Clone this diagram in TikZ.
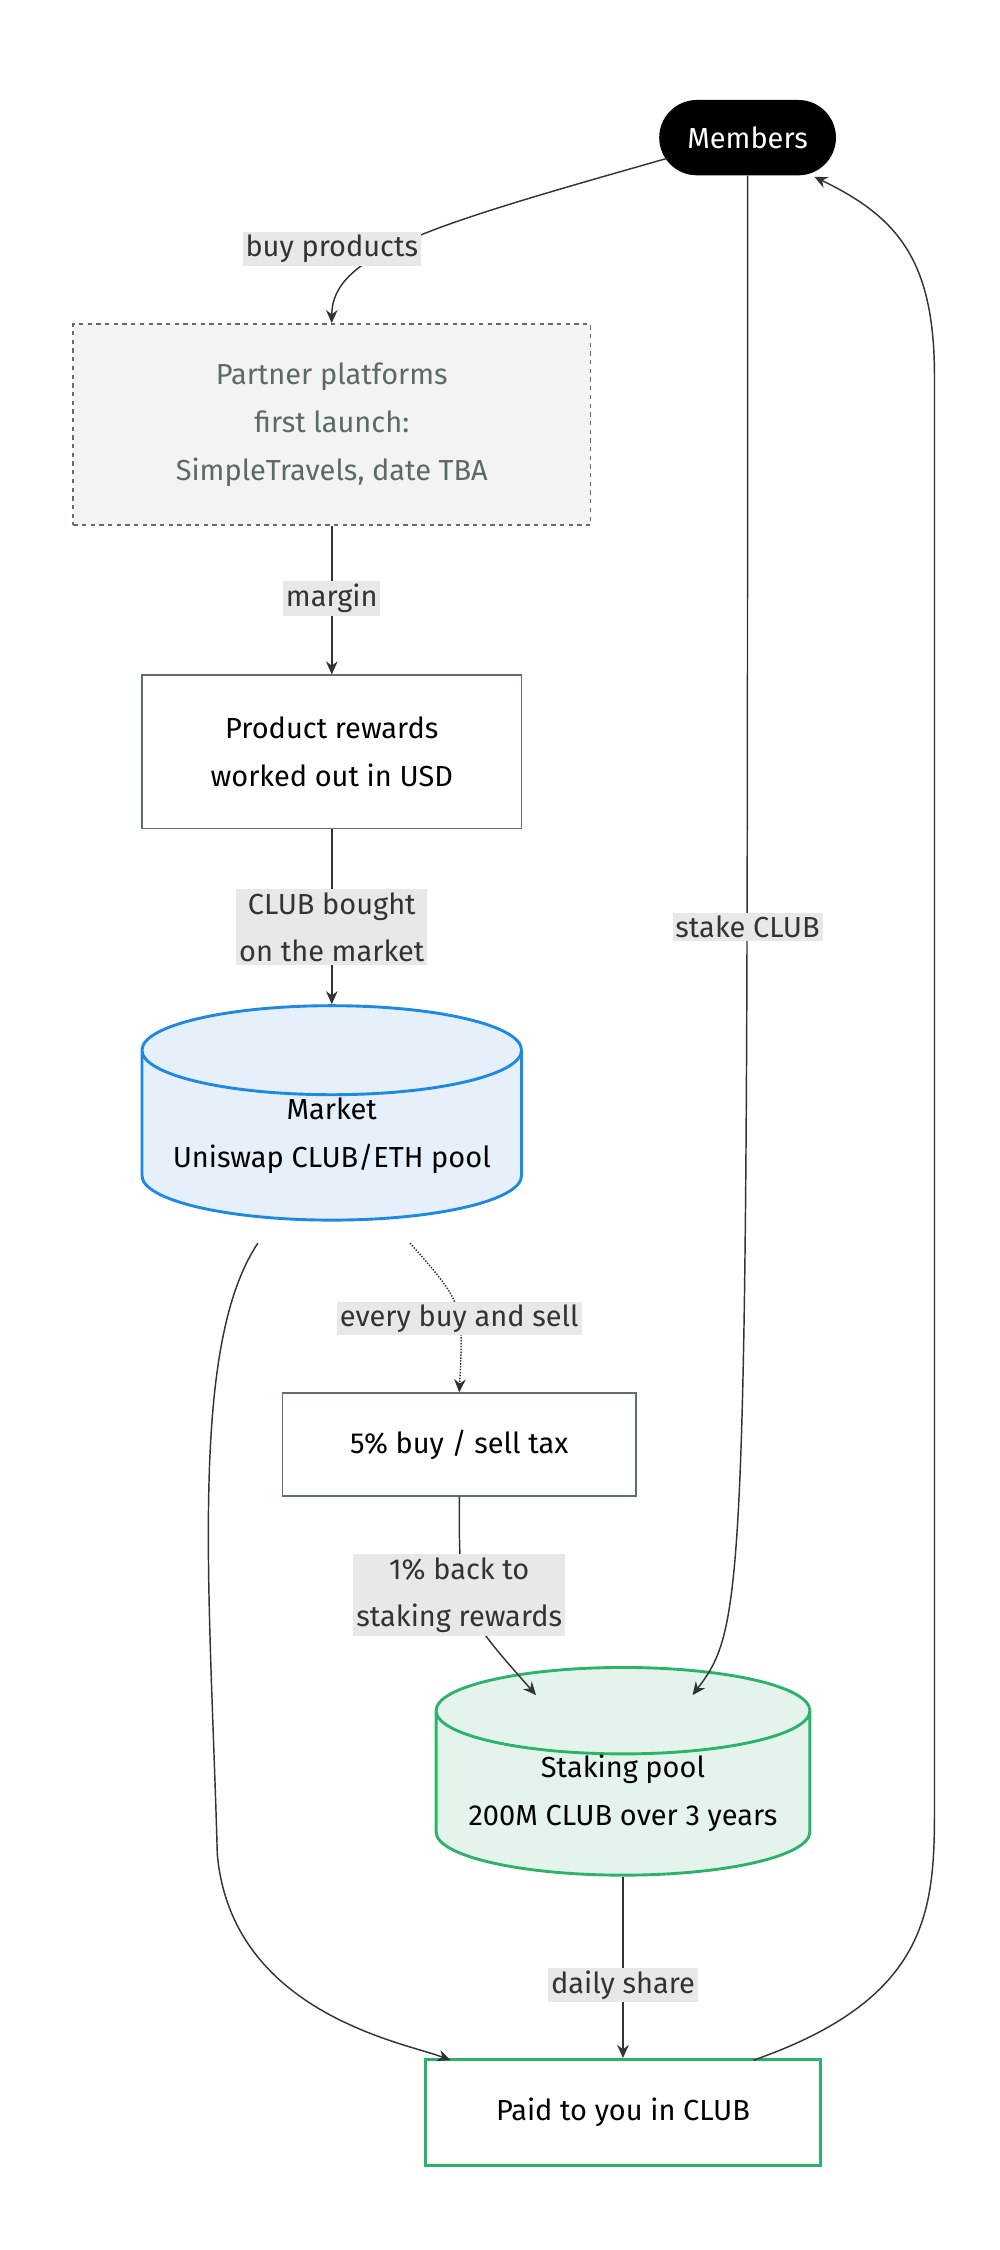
\documentclass[tikz,border=0pt]{standalone}
\usepackage{fontspec}
\setmainfont{Fira Sans}
\usetikzlibrary{shapes.geometric,arrows.meta}
\definecolor{edgecol}{HTML}{333333}
\definecolor{lblbg}{HTML}{E8E8E8}
\definecolor{mktline}{HTML}{1E88E5}
\definecolor{mktfill}{HTML}{E6F0FB}
\definecolor{stkline}{HTML}{2BB36A}
\definecolor{stkfill}{HTML}{E4F4EC}
\definecolor{partfill}{HTML}{F3F4F2}
\definecolor{parttext}{HTML}{5A6B63}
\definecolor{boxline}{HTML}{5F6F6A}
\begin{document}
\begin{tikzpicture}[x=1pt,y=-1pt,>={Stealth[length=9pt,width=8pt]},
  font=\fontsize{20}{33}\selectfont,
  box/.style={draw=boxline,line width=1pt,align=center,inner sep=0pt},
  pool/.style={cylinder,shape border rotate=90,aspect=0.28,draw,line width=2pt,align=center,inner sep=0pt},
  lbl/.style={fill=lblbg,align=center,inner sep=2pt,text=edgecol},
  flow/.style={->,draw=edgecol,line width=1pt}]
\useasboundingbox (0,0) rectangle (690,1553);

\node[fill=black,text=white,rounded corners=26pt,minimum width=122pt,minimum height=52pt] (mem) at (516,95) {Members};
\node[box,dashed,fill=partfill,text=parttext,minimum width=357pt,minimum height=139pt] (part) at (229,293) {Partner platforms\\first launch:\\SimpleTravels, date TBA};
\node[box,minimum width=262pt,minimum height=106pt] (prod) at (229,519) {Product rewards\\worked out in USD};
\node[pool,draw=mktline,fill=mktfill,minimum width=262pt,minimum height=148pt] (mkt) at (229,784) {Market\\Uniswap CLUB/ETH pool};
\node[box,minimum width=244pt,minimum height=71pt] (tax) at (317,997) {5\% buy / sell tax};
\node[pool,draw=stkline,fill=stkfill,minimum width=258pt,minimum height=135pt] (stk) at (430,1238) {Staking pool\\200M CLUB over 3 years};
\node[box,draw=stkline,line width=2pt,minimum width=273pt,minimum height=73pt] (paid) at (430,1458) {Paid to you in CLUB};

% connectors
\draw[flow] (mem.south west) ++(6,-12) .. controls (300,155) and (229,175) .. (part.north);
\draw[flow] (part.south) -- (prod.north);
\draw[flow] (prod.south) -- (mkt.north);
\draw[flow,densely dotted] (283,858) .. controls (320,900) .. (tax.north);
\draw[flow] (tax.south) .. controls (317,1110) .. (370,1170);
\draw[flow] (mem.south) .. controls (516,1100) and (516,1120) .. (478,1170);
\draw[flow] (178,858) .. controls (130,930) and (145,1100) .. (150,1280) .. controls (160,1390) and (280,1410) .. (311,1422);
\draw[flow] (stk.south) -- (paid.north);
\draw[flow] (520,1422) .. controls (640,1380) and (645,1320) .. (645,1250) -- (645,260) .. controls (645,180) and (620,150) .. (562,122);

% labels
\node[lbl] (l1) at (229,172) {buy products};
\node[lbl] (l2) at (229,413) {margin};
\node[lbl] (l3) at (229,640) {CLUB bought\\on the market};
\node[lbl] (l4) at (317,910) {every buy and sell};
\node[lbl] (l5) at (317,1101) {1\% back to\\staking rewards};
\node[lbl] (l6) at (516,640) {stake CLUB};
\node[lbl] (l7) at (430,1370) {daily share};
\end{tikzpicture}
\end{document}
